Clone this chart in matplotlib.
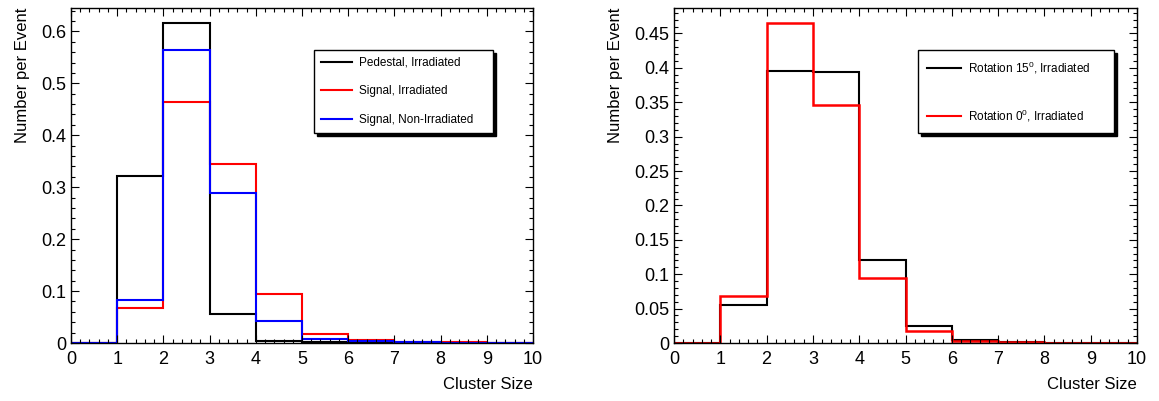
import numpy as np
import matplotlib
matplotlib.use('Agg')
import matplotlib.pyplot as plt
from matplotlib.ticker import MultipleLocator, FuncFormatter

plt.rcParams['font.family'] = ['Liberation Sans', 'DejaVu Sans']
plt.rcParams['mathtext.default'] = 'regular'

# cluster size bins 0..10
edges = np.arange(11)

# left: pedestal vs signal
pedestal_irr = [0, 0.322, 0.616, 0.056, 0.004, 0.001, 0, 0, 0, 0]
signal_irr = [0, 0.067, 0.464, 0.345, 0.094, 0.018, 0.005, 0.002, 0.001, 0.0005]
signal_nonirr = [0, 0.083, 0.564, 0.288, 0.042, 0.008, 0.003, 0.001, 0.0005, 0.0002]

# right: rotation comparison
rot15_irr = [0, 0.055, 0.396, 0.394, 0.121, 0.024, 0.0045, 0.0015, 0.0005, 0.0002]
rot0_irr = [0, 0.068, 0.465, 0.346, 0.094, 0.018, 0.0035, 0.001, 0.0003, 0.0001]

W, H = 1159, 401
fig = plt.figure(figsize=(W/100, H/100), dpi=100)
ax1 = fig.add_axes([71/W, 58/H, 462/W, 335/H])
ax2 = fig.add_axes([674/W, 58/H, 463/W, 335/H])

def root_style(ax, ymax, ymajor):
    ax.set_xlim(0, 10)
    ax.set_ylim(0, ymax)
    ax.xaxis.set_major_locator(MultipleLocator(1))
    ax.xaxis.set_minor_locator(MultipleLocator(0.2))
    ax.yaxis.set_major_locator(MultipleLocator(ymajor))
    ax.yaxis.set_minor_locator(MultipleLocator(ymajor/5))
    ax.yaxis.set_major_formatter(FuncFormatter(lambda v, p: '%g' % round(v, 4)))
    ax.tick_params(which='both', direction='in', top=True, right=True,
                   labelsize=13, width=0.8)
    ax.tick_params(which='major', length=5.5)
    ax.tick_params(which='minor', length=3)
    ax.tick_params(axis='x', pad=6)
    ax.set_xlabel('Cluster Size', loc='right', fontsize=12, labelpad=6)
    ax.set_ylabel('Number per Event', loc='top', fontsize=12, labelpad=8)
    for s in ax.spines.values():
        s.set_linewidth(1.0)

ax1.stairs(pedestal_irr, edges, color='black', lw=1.5, baseline=0, label='Pedestal, Irradiated')
ax1.stairs(signal_irr, edges, color='#ff0000', lw=1.5, baseline=0, label='Signal, Irradiated')
ax1.stairs(signal_nonirr, edges, color='#0000ff', lw=1.5, baseline=0, label='Signal, Non-Irradiated')
root_style(ax1, 0.645, 0.1)

ax2.stairs(rot15_irr, edges, color='black', lw=1.5, baseline=0, label='Rotation 15$^{0}$, Irradiated')
ax2.stairs(rot0_irr, edges, color='#ff0000', lw=1.8, baseline=0, label='Rotation 0$^{0}$, Irradiated')
root_style(ax2, 0.487, 0.05)

leg_kw = dict(fontsize=8.5, frameon=True, fancybox=False, loc='upper left',
              mode='expand', borderaxespad=0, handletextpad=0.6,
              shadow={'color': 'black', 'alpha': 1.0})
leg1 = ax1.legend(bbox_to_anchor=(0.526, 0.875, 0.387, 0.0),
                  handlelength=2.6, labelspacing=1.4, borderpad=0.6, **leg_kw)
leg2 = ax2.legend(bbox_to_anchor=(0.527, 0.875, 0.423, 0.0),
                  handlelength=2.8, labelspacing=2.7, borderpad=0.8, **leg_kw)
for leg in (leg1, leg2):
    leg.get_frame().set_edgecolor('black')
    leg.get_frame().set_linewidth(1.0)
    for h in leg.legend_handles:
        h.set_linewidth(1.5)

fig.savefig('out.png', dpi=100)
